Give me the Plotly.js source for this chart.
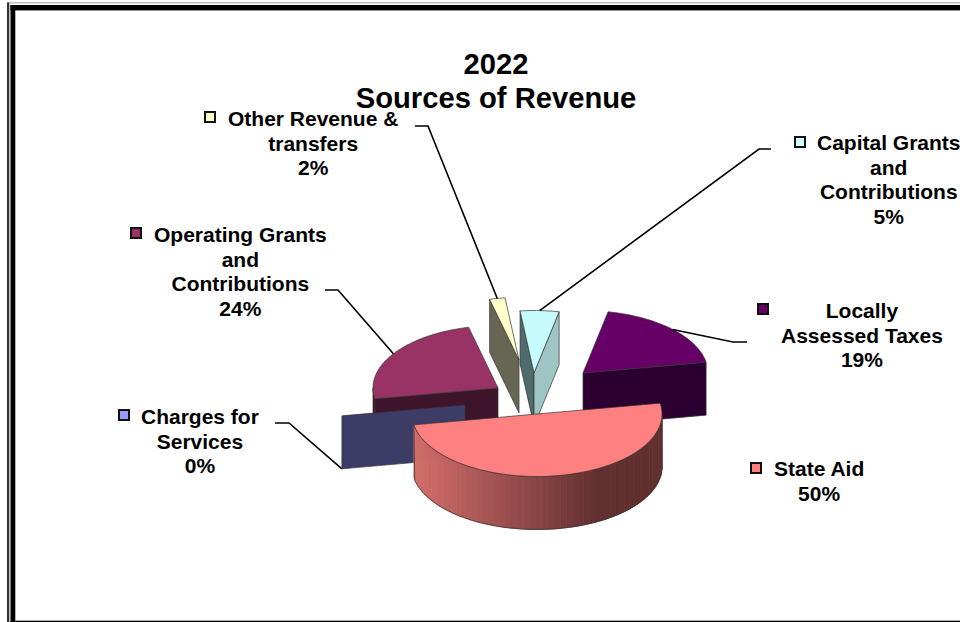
<!DOCTYPE html>
<html><head><meta charset="utf-8">
<script src="https://cdn.plot.ly/plotly-3.0.1.min.js"></script>
<style>html,body{margin:0;padding:0;background:#fff;overflow:hidden}</style>
</head><body><div id="chart" style="width:960px;height:622px"></div>
<script>
// ---- data ----
const titleLines = ['2022', 'Sources of Revenue'];
const categories = ['State Aid', 'Charges for Services', 'Operating Grants and Contributions', 'Other Revenue & transfers', 'Capital Grants and Contributions', 'Locally Assessed Taxes'];
const values = [50, 0, 24, 2, 5, 19];
const wrappedLabels = ['State Aid', 'Charges for<br>Services', 'Operating Grants<br>and<br>Contributions', 'Other Revenue &<br>transfers', 'Capital Grants<br>and<br>Contributions', 'Locally<br>Assessed Taxes'];

// ---- styles ----
const topColors = ['#ff8080', '#9999ff', '#993366', '#ffffcc', '#c6fbfb', '#660066'];
const keyColors = ['#ff8080', '#9999ff', '#993366', '#ffffcc', '#ccffff', '#660066'];
const startFace = ['#63302f', '#3c3c66', '#3d1429', '#666652', '#4f6b6b', '#2b0030'];
const endFace = ['#63302f', '#3c3c66', '#3d1429', '#666652', '#9fc4c4', '#2b0030'];
const FONT = '"Liberation Sans", Arial, sans-serif';

// ---- pie projection (screen-like axis units) ----
const cx = 530, cy = 393, R = 125, k = 0.5, depth = 53, startDeg = -10;
const explodeX = [7, -65, -32, -11, 4, 53];
const explodeY = [21, 12, -5, -33, -20, -20];
const labelX = [819, 200, 240, 313, 889, 862];
const labelY = [481, 441, 271, 143, 179, 335];
const keyX = [756, 124, 136, 210, 800, 763];
const keyY = [468, 415, 233, 117, 142, 309];
const elbowX = [null, 289, 338, 428, 759, 733];
const elbowY = [null, 423, 290, 126, 149, 342];
const stubX = [null, 275, 325, 415, 771, 747];
const drawOrder = [3, 4, 5, 2, 1, 0];

const rad = d => d * Math.PI / 180;
const traces = [];
function poly(xs, ys, fill, lineColor, width) {
  traces.push({type: 'scatter', mode: 'lines', x: xs.concat(xs[0]), y: ys.concat(ys[0]), fill: 'toself', fillcolor: fill,
    line: {color: lineColor, width: width, simplify: false}, hoverinfo: 'skip', showlegend: false});
}
const EDGE = '#333333';
let acc = startDeg;
const slices = values.map((v, i) => {
  const a0 = acc, a1 = acc + v * 3.6; acc = a1;
  return {i, a0, a1, ox: cx + explodeX[i], oy: cy + explodeY[i]};
});
const px = (s, a) => s.ox + R * Math.cos(rad(a));
const py = (s, a) => s.oy + R * k * Math.sin(rad(a));
function mix(c1, c2, t) { return 'rgb(' + c1.map((c, j) => Math.round(c + (c2[j] - c) * t)).join(',') + ')'; }

drawOrder.forEach(i => {
  const s = slices[i];
  if (i !== 0 && Math.cos(rad(s.a0)) < 0) {
    poly([s.ox, px(s, s.a0), px(s, s.a0), s.ox], [s.oy, py(s, s.a0), py(s, s.a0) + depth, s.oy + depth], startFace[i], EDGE, 0.7);
  }
  if (s.a1 > s.a0 && i !== 0 && Math.cos(rad(s.a1)) > 0) {
    poly([s.ox, px(s, s.a1), px(s, s.a1), s.ox], [s.oy, py(s, s.a1), py(s, s.a1) + depth, s.oy + depth], endFace[i], EDGE, 0.7);
  }
  // outer wall, front half only
  const lo = Math.max(s.a0, 0), hi = Math.min(s.a1, 180);
  if (hi > lo) {
    if (i === 0) {
      const n = 60;
      for (let q = 0; q < n; q++) {
        const b0 = lo + (hi - lo) * q / n, b1 = lo + (hi - lo) * (q + 1) / n;
        const xm = px(s, (b0 + b1) / 2);
        const t = Math.min(1, Math.max(0, (xm - 413) / 185));
        const col = mix([212, 110, 108], [98, 47, 47], t);
        poly([px(s, b0), px(s, b1), px(s, b1), px(s, b0)], [py(s, b0), py(s, b1), py(s, b1) + depth, py(s, b0) + depth], col, col, 0.8);
      }
      // wall outline
      const xs = [], ys = [];
      for (let a = lo; a <= hi; a += 3) { xs.push(px(s, a)); ys.push(py(s, a) + depth); }
      for (let a = hi; a >= lo; a -= 3) { xs.push(px(s, a)); ys.push(py(s, a)); }
      traces.push({type: 'scatter', mode: 'lines', x: xs.concat(xs[0]), y: ys.concat(ys[0]), line: {color: EDGE, width: 0.7}, hoverinfo: 'skip', showlegend: false});
    } else {
      const xs = [], ys = [];
      for (let a = lo; a <= hi; a += 2) { xs.push(px(s, a)); ys.push(py(s, a)); }
      for (let a = hi; a >= lo; a -= 2) { xs.push(px(s, a)); ys.push(py(s, a) + depth); }
      poly(xs, ys, startFace[i], EDGE, 0.7);
    }
  }
  // top face
  if (s.a1 > s.a0) {
    const xs = [s.ox], ys = [s.oy];
    for (let a = s.a0; a < s.a1; a += 1.5) { xs.push(px(s, a)); ys.push(py(s, a)); }
    xs.push(px(s, s.a1)); ys.push(py(s, s.a1));
    poly(xs, ys, topColors[i], EDGE, 0.7);
  }
});

// leader lines, running from the label to the middle of each slice
slices.forEach(s => {
  if (elbowX[s.i] === null) return;
  const mid = (s.a0 + s.a1) / 2;
  const drop = s.a1 === s.a0 ? depth : 0;
  traces.push({type: 'scatter', mode: 'lines', x: [stubX[s.i], elbowX[s.i], px(s, mid)], y: [elbowY[s.i], elbowY[s.i], py(s, mid) + drop],
    line: {color: '#000', width: 1.6}, hoverinfo: 'skip', showlegend: false});
});

// legend keys
traces.push({type: 'scatter', mode: 'markers', x: keyX, y: keyY, text: categories, hoverinfo: 'text', showlegend: false,
  marker: {symbol: 'square', size: 10, color: keyColors, line: {color: '#111', width: 2}}});

const annotations = values.map((v, i) => ({
  xref: 'x', yref: 'y', x: labelX[i], y: labelY[i], xanchor: 'center', yanchor: 'middle', showarrow: false, align: 'center',
  font: {family: FONT, size: 18.85, color: '#000', weight: 700},
  text: (wrappedLabels[i] + '<br>' + v + '%').split('<br>').map(l => '<span style="font-size:21px"><b>' + l + '</b></span>').join('<br>')
}));

const hline = (x0, x1, y0, y1, c) => ({type: 'rect', xref: 'x', yref: 'y', x0, x1, y0, y1, fillcolor: c, line: {width: 0}, layer: 'below'});
const shapes = [
  hline(7, 960, 2, 3.5, '#bbbbbb'),
  hline(7, 9.3, 2.5, 622, '#333333'),
  hline(10.5, 960, 5, 10.5, '#000000'),
  hline(10.5, 15.3, 5, 622, '#000000'),
  hline(15.3, 960, 10.5, 11, '#aaaaaa'),
  hline(15.3, 960, 620, 621, '#aaaaaa'),
  hline(10.5, 960, 621, 622, '#000000')
];

Plotly.newPlot('chart', traces, {
  width: 960, height: 622, margin: {l: 0, r: 0, t: 0, b: 0},
  paper_bgcolor: '#fff', plot_bgcolor: '#fff', showlegend: false,
  title: {
    text: '<span style="font-size:29.2px"><b>' + titleLines[0] + '</b></span><br><span style="font-size:29.2px"><b>' + titleLines[1] + '</b></span>',
    font: {family: FONT, size: 26.15, color: '#000'},
    x: 496 / 960, xanchor: 'center', xref: 'paper', y: 1 - 74 / 622, yanchor: 'middle', yref: 'container'
  },
  xaxis: {range: [0, 960], visible: false, fixedrange: true},
  yaxis: {range: [622, 0], visible: false, fixedrange: true},
  annotations, shapes
}, {displayModeBar: false, staticPlot: true});
</script></body></html>
